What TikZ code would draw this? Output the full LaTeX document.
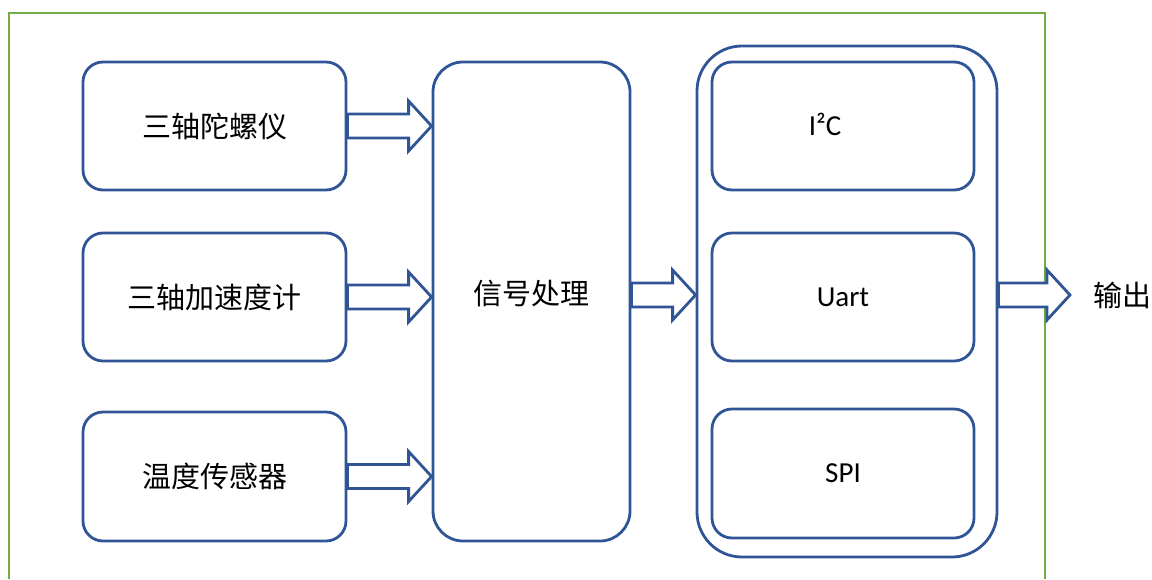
\documentclass[tikz,border=0pt]{standalone}
\usepackage{fontspec}
\setmainfont{Carlito}
\newfontfamily\cjk{Noto Sans CJK SC}
\usetikzlibrary{calc}
\definecolor{dblue}{HTML}{2F5597}
\definecolor{fgreen}{HTML}{70AD47}
\tikzset{
  rbox/.style={draw=dblue, line width=2.8pt, rounded corners=20pt, inner sep=0pt, font=\fontsize{29}{32}\selectfont},
  barrow/.style={draw=dblue, line width=2.8pt, fill=white, line join=miter},
  txt/.style={inner sep=0pt, font=\fontsize{29}{32}\selectfont}
}
\newcommand\myblockarrow[2]{%
  \draw[barrow] ($(#1)+(0,-12)$) -- ($(#2)+(-23,-12)$) -- ($(#2)+(-23,-25)$) -- (#2)
    -- ($(#2)+(-23,25)$) -- ($(#2)+(-23,12)$) -- ($(#1)+(0,12)$) -- cycle;}
\begin{document}
\begin{tikzpicture}[x=1pt,y=-1pt]
\useasboundingbox (0,0) rectangle (1152,579);
% green frame
\draw[fgreen, line width=2.6pt] (9,579) -- (9,13) -- (1045,13) -- (1045,579);
% left boxes
\node[rbox, minimum width=263pt, minimum height=128pt] (gyro) at (214.5,126) {\cjk 三轴陀螺仪};
\node[rbox, minimum width=263pt, minimum height=128pt] (acc) at (214.5,297) {\cjk 三轴加速度计};
\node[rbox, minimum width=263pt, minimum height=129pt] (temp) at (214.5,476.5) {\cjk 温度传感器};
% signal processing
\node[rbox, rounded corners=30pt, minimum width=197pt, minimum height=479pt] (sig) at (531.5,301.5) {};
\node[txt] (sigt) at (531.5,294) {\cjk 信号处理};
% interface group
\node[rbox, rounded corners=45pt, minimum width=300pt, minimum height=511pt] (outer) at (847,301.5) {};
\node[rbox, minimum width=262pt, minimum height=128pt] (i2c) at (843,126) {};
\node[txt] (i2ct) at (825,124) {I²C};
\node[rbox, minimum width=262pt, minimum height=128pt] (uart) at (843,297) {Uart};
\node[rbox, minimum width=262pt, minimum height=129pt] (spi) at (843,473.5) {SPI};
% output label
\node[txt, anchor=west] (out) at (1093,295) {\cjk 输出};
% arrow coordinates
\coordinate (a1s) at (gyro.east);
\coordinate (a1e) at (sig.west |- gyro.east);
\coordinate (a2s) at (acc.east);
\coordinate (a2e) at (sig.west |- acc.east);
\coordinate (a3s) at (temp.east);
\coordinate (a3e) at (sig.west |- temp.east);
\coordinate (a4s) at ($(sig.east |- uart.center)+(0,-2)$);
\coordinate (a4e) at ($(outer.west |- uart.center)+(0,-2)$);
\coordinate (a5s) at ($(outer.east |- uart.center)+(0,-2)$);
\coordinate (a5e) at ($(out.west)+(-23,0)$);
\myblockarrow{a1s}{a1e}
\myblockarrow{a2s}{a2e}
\myblockarrow{a3s}{a3e}
\myblockarrow{a4s}{a4e}
\myblockarrow{a5s}{a5e}
\end{tikzpicture}
\end{document}
